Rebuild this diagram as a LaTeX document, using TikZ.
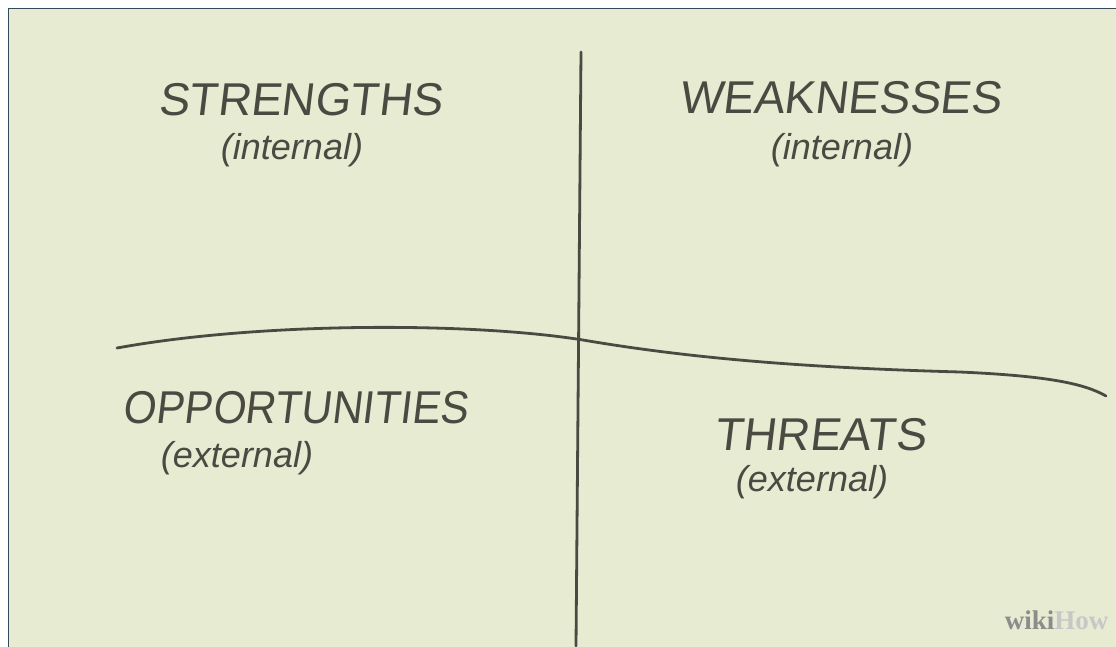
\documentclass[tikz,border=0pt]{standalone}
\usepackage{fontspec}
\setmainfont{Liberation Sans}
\usepackage{tikz}

\definecolor{board}{HTML}{E7EBD2}
\definecolor{marker}{HTML}{4A4A42}
\definecolor{frame}{HTML}{34495A}

\tikzset{
    head/.style={text=marker, font=\fontsize{46}{50}\selectfont, xslant=0.12},
    sub/.style={text=marker, font=\itshape\fontsize{36}{40}\selectfont},
    pen/.style={draw=marker, line width=2.8pt, line cap=round}
}

\begin{document}
\begin{tikzpicture}[x=1pt, y=-1pt]
            % Board
            \useasboundingbox (0,0) rectangle (1116,646);
            \fill[white] (0,0) rectangle (1116,646);
            \fill[board, draw=frame, line width=1.2pt] (8.5,8.5) rectangle (1122,652);
            % Divider lines
            \coordinate (top) at (581,52);
            \coordinate (bottom) at (576,646);
            \coordinate (left) at (117,348);
            \coordinate (mid) at (583,340);
            \coordinate (right) at (1106,396);
            \draw[pen] (top) -- (bottom);
            \draw[pen] (left) .. controls (260,322) and (470,322) .. (mid)
                .. controls (700,360) and (820,368) .. (960,372)
                .. controls (1050,376) and (1085,384) .. (right);
            % Quadrant labels
            \node[head] (Strengths) at (302,100) {STRENGTHS};
            \node[sub] (Strengths-sub) at (292,150) {(internal)};
            \node[head] (Weaknesses) at (842,98) {WEAKNESSES};
            \node[sub] (Weaknesses-sub) at (842,150) {(internal)};
            \node[head, xscale=0.92] (Opportunities) at (297,408) {OPPORTUNITIES};
            \node[sub] (Opportunities-sub) at (237,458) {(external)};
            \node[head] (Threats) at (822,435) {THREATS};
            \node[sub] (Threats-sub) at (812,482) {(external)};
            % Logo
            \node[font=\bfseries\fontsize{27}{30}\selectfont\fontspec{Liberation Serif}, anchor=east] (Logo) at (1112,620)
                {\textcolor{black!45}{wiki}\textcolor{black!22}{How}};
        \end{tikzpicture}
\end{document}
